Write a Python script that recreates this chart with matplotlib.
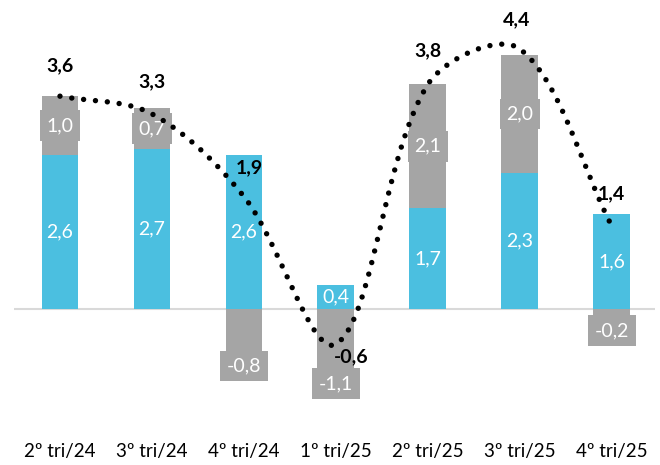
import numpy as np
import matplotlib.pyplot as plt

plt.rcParams['font.family'] = ['Lato', 'DejaVu Sans']

trimestres = ['2º tri/24', '3º tri/24', '4º tri/24', '1º tri/25', '2º tri/25', '3º tri/25', '4º tri/25']
azul = [2.6, 2.7, 2.6, 0.4, 1.7, 2.3, 1.6]
cinza = [1.0, 0.7, -0.8, -1.1, 2.1, 2.0, -0.2]
total = [3.6, 3.3, 1.9, -0.6, 3.8, 4.4, 1.4]

# deslocamento (pt) dos rótulos do total
desloc = [(0, 22), (0, 23), (4, 21), (11, -9), (0, 24), (-2, 21), (0, 23)]

AZUL = '#4BBFE0'
CINZA = '#A5A5A5'


def fmt(v):
    return f'{v:.1f}'.replace('.', ',')


def linha_suave(p, n=40):
    # bezier com pontos de controle proporcionais às distâncias (em pixels)
    p = np.asarray(p, dtype=float)
    q = np.vstack([p[0], p, p[-1]])
    out = []
    for i in range(1, len(q) - 2):
        p0, p1, p2, p3 = q[i - 1], q[i], q[i + 1], q[i + 2]
        d01 = np.hypot(*(p1 - p0))
        d12 = np.hypot(*(p2 - p1))
        d23 = np.hypot(*(p3 - p2))
        f1 = d12 / (d01 + d12) / 3 if d01 + d12 > 0 else 0
        f2 = d12 / (d12 + d23) / 3 if d12 + d23 > 0 else 0
        c1 = p1 + (p2 - p0) * f1
        c2 = p2 - (p3 - p1) * f2
        t = np.linspace(0, 1, n)[:, None]
        seg = (1 - t) ** 3 * p1 + 3 * (1 - t) ** 2 * t * c1 + 3 * (1 - t) * t ** 2 * c2 + t ** 3 * p2
        out.append(seg if i == len(q) - 3 else seg[:-1])
    return np.vstack(out)


fig = plt.figure(figsize=(6.6, 4.65), dpi=100)
ax = fig.add_axes([14 / 660, 40 / 465, 641 / 660, 415 / 465])
ax.set_xlim(-0.5, 6.47)
ax.set_ylim(-1.97, 5.06)

x = np.arange(len(trimestres))
w = 0.4
base_cinza = [a if c > 0 else 0 for a, c in zip(azul, cinza)]

ax.bar(x, azul, w, color=AZUL, zorder=2)
ax.bar(x, cinza, w, bottom=base_cinza, color=CINZA, zorder=2)
ax.axhline(0, color='#D9D9D9', lw=1.5, zorder=1)

for i in range(len(x)):
    ax.text(x[i], azul[i] / 2, fmt(azul[i]), ha='center', va='center', color='white',
            fontsize=14, zorder=4,
            bbox=dict(boxstyle='square,pad=0.2', fc=AZUL, ec='none'))
    if cinza[i] > 0:
        ax.text(x[i], base_cinza[i] + cinza[i] / 2, fmt(cinza[i]), ha='center', va='center',
                color='white', fontsize=14, zorder=4,
                bbox=dict(boxstyle='square,pad=0.35', fc=CINZA, ec='none'))
    else:
        ax.annotate(fmt(cinza[i]), (x[i], cinza[i]), xytext=(0, -1), textcoords='offset points',
                    ha='center', va='top', color='white', fontsize=14, zorder=4,
                    bbox=dict(boxstyle='square,pad=0.35', fc=CINZA, ec='none'))

# curva do total calculada em coordenadas de tela
pix = ax.transData.transform(np.column_stack([x, total]))
curva = ax.transData.inverted().transform(linha_suave(pix))
ax.plot(curva[:, 0], curva[:, 1], color='black', lw=3.9, linestyle=(0, (0.001, 2.2)),
        dash_capstyle='round', zorder=5)

for i in range(len(x)):
    ax.annotate(fmt(total[i]), (x[i], total[i]), xytext=desloc[i], textcoords='offset points',
                ha='center', va='center', fontsize=14, fontweight='bold', color='black', zorder=6)

ax.set_xticks(x)
ax.set_xticklabels(trimestres, fontsize=13.5)
ax.tick_params(axis='x', length=0, pad=13)
ax.set_yticks([])
for s in ax.spines.values():
    s.set_visible(False)

fig.savefig('out.png', dpi=100)
